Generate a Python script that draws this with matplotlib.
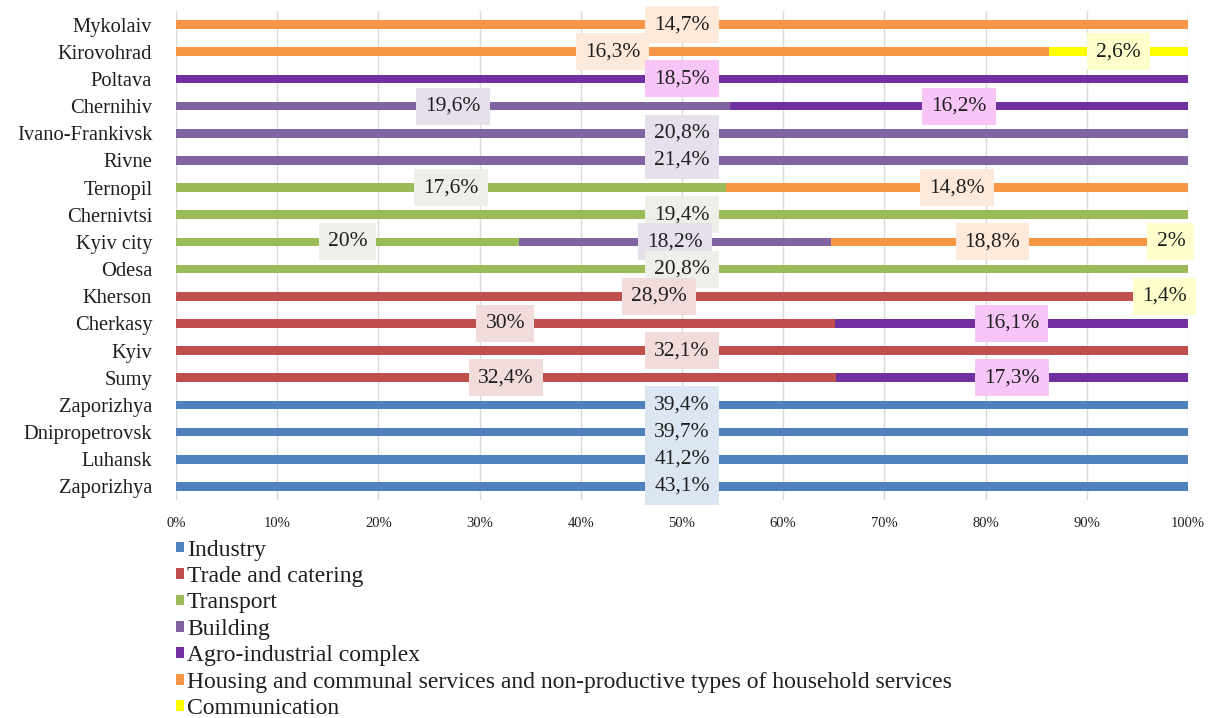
import matplotlib
matplotlib.use("Agg")
import matplotlib.pyplot as plt
from matplotlib.patches import Patch
import numpy as np

plt.rcParams['font.family'] = ['Liberation Serif', 'DejaVu Serif']

# Categories listed top to bottom
regions = ["Mykolaiv", "Kirovohrad", "Poltava", "Chernihiv", "Ivano-Frankivsk", "Rivne",
           "Ternopil", "Chernivtsi", "Kyiv city", "Odesa", "Kherson", "Cherkasy",
           "Kyiv", "Sumy", "Zaporizhya", "Dnipropetrovsk", "Luhansk", "Zaporizhya"]

series_names = ["Industry", "Trade and catering", "Transport", "Building",
                "Agro-industrial complex",
                "Housing and communal services and non-productive types of household services",
                "Communication"]

industry      = [0, 0, 0, 0, 0, 0, 0, 0, 0, 0, 0, 0, 0, 0, 39.4, 39.7, 41.2, 43.1]
trade         = [0, 0, 0, 0, 0, 0, 0, 0, 0, 0, 28.9, 30.0, 32.1, 32.4, 0, 0, 0, 0]
transport     = [0, 0, 0, 0, 0, 0, 17.6, 19.4, 20.0, 20.8, 0, 0, 0, 0, 0, 0, 0, 0]
building      = [0, 0, 0, 19.6, 20.8, 21.4, 0, 0, 18.2, 0, 0, 0, 0, 0, 0, 0, 0, 0]
agro          = [0, 0, 18.5, 16.2, 0, 0, 0, 0, 0, 0, 0, 16.1, 0, 17.3, 0, 0, 0, 0]
housing       = [14.7, 16.3, 0, 0, 0, 0, 14.8, 0, 18.8, 0, 0, 0, 0, 0, 0, 0, 0, 0]
communication = [0, 2.6, 0, 0, 0, 0, 0, 0, 2.0, 0, 1.4, 0, 0, 0, 0, 0, 0, 0]

series = [industry, trade, transport, building, agro, housing, communication]
colors = ["#4F81BD", "#C0504D", "#9BBB59", "#8064A2", "#7030A0", "#F79646", "#FFFF00"]
box_colors = ["#DCE6F2", "#F2DCDB", "#EDEFE8", "#E5E0EC", "#F7C6F7", "#FDE9D9", "#FFFFCC"]
xtick_labels = ["0%", "10%", "20%", "30%", "40%", "50%", "60%", "70%", "80%", "90%", "100%"]

fig = plt.figure(figsize=(12.21, 7.18), dpi=100)
ax = fig.add_axes([0.1441, 0.3036, 0.973 - 0.1441, 0.9847 - 0.3036])

data = np.array(series, dtype=float)
totals = data.sum(axis=0)
shares = data / totals * 100
y = np.arange(len(regions))

left = np.zeros(len(regions))
for i, name in enumerate(series_names):
    ax.barh(y, shares[i], left=left, height=0.32, color=colors[i], zorder=2, label=name)
    for j in range(len(regions)):
        if data[i, j] > 0:
            v = data[i, j]
            txt = (f"{v:.1f}".rstrip('0').rstrip('.')).replace('.', ',') + "%"
            ax.text(left[j] + shares[i, j] / 2, y[j], txt, ha='center', va='center',
                    fontsize=15.5, color='#1f1f1f', zorder=5 + 0.01 * j,
                    bbox=dict(boxstyle='square,pad=0.42', fc=box_colors[i], ec='none'))
    left += shares[i]

ax.set_xlim(0, 100)
ax.set_ylim(len(regions) - 0.5, -0.5)
ax.set_yticks(y)
ax.set_yticklabels(regions, fontsize=14.8, color='#1f1f1f')
ax.set_xticks(np.arange(0, 101, 10))
ax.set_xticklabels(xtick_labels, fontsize=10.5, color='#1f1f1f')
ax.tick_params(axis='y', length=0, pad=17)
ax.tick_params(axis='x', length=0, pad=12)
ax.xaxis.grid(True, color='#D9D9D9', linewidth=1, zorder=0)
ax.set_axisbelow(True)
for s in ax.spines.values():
    s.set_visible(False)

handles = [Patch(facecolor=c, edgecolor='none') for c in colors]
fig.legend(handles, series_names, loc='upper left', bbox_to_anchor=(0.1441, 0.2485),
           frameon=False, fontsize=17, handlelength=0.32, handleheight=0.32,
           handletextpad=0.15, labelspacing=0.23, borderpad=0, borderaxespad=0,
           labelcolor='#1f1f1f')

fig.savefig("out.png", dpi=100)
